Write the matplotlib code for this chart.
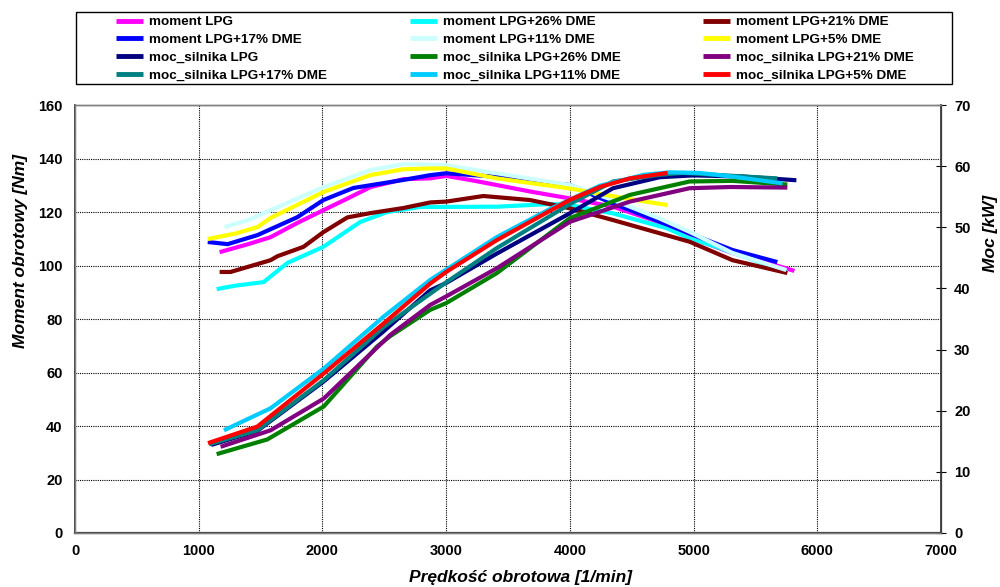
import matplotlib
matplotlib.use("Agg")
import matplotlib.pyplot as plt
from matplotlib.patches import Rectangle

plt.rcParams['font.family'] = ['Liberation Sans', 'DejaVu Sans']

# ---- data (torque, Nm) ----
m_lpg_x = [1169, 1400, 1581, 1800, 2008, 2200, 2387, 2656, 2871, 3000, 3194, 3409, 3700, 4000, 4349, 4672, 5000, 5315, 5600, 5815]
m_lpg_y = [105, 108, 110.6, 116, 120.7, 125, 129.3, 132.3, 132.6, 133.5, 132, 130.1, 127.5, 125.1, 122, 117, 110, 104.7, 101, 98]

m26_x = [1145, 1300, 1524, 1718, 2008, 2306, 2524, 2790, 3409, 3839, 4000, 4349, 4782, 4968, 5185, 5758]
m26_y = [91.2, 92.5, 93.8, 101, 107, 116.3, 120, 121.9, 122, 123, 122.6, 119.5, 114, 110.2, 107, 97.6]

m21_x = [1169, 1258, 1581, 1637, 1847, 2008, 2202, 2387, 2653, 2871, 3000, 3301, 3677, 4000, 4349, 4968, 5315, 5758]
m21_y = [97.6, 97.6, 102, 103.5, 107, 112.5, 118, 119.6, 121.5, 123.6, 123.9, 126, 124.5, 121.4, 117, 108.9, 102, 97.2]

m17_x = [1073, 1234, 1476, 1798, 2008, 2250, 2653, 2871, 3000, 3409, 4000, 4349, 4726, 4968, 5315, 5677]
m17_y = [108.8, 108, 111.4, 118.1, 124.5, 129, 132, 133.8, 134.5, 133.2, 130.1, 123.2, 116.4, 112, 105.8, 101.3]

m11_x = [1210, 1400, 1581, 2008, 2387, 2653, 2871, 3000, 3409, 4000, 4349, 4726, 4968, 5315, 5750]
m11_y = [114.4, 117, 120.7, 129.3, 135.7, 137.9, 137.8, 137.5, 134.5, 130.1, 124.5, 117.6, 112.6, 104.7, 98.3]

m5_x = [1073, 1300, 1476, 1581, 2008, 2387, 2653, 2871, 3000, 3409, 4000, 4400, 4790]
m5_y = [109.9, 112, 114.4, 117.8, 127.5, 133.8, 136, 136.3, 136.3, 132.6, 128.8, 125.5, 122.6]

# ---- data (power, kW) ----
p_lpg_x = [1100, 1473, 2011, 2495, 2871, 3000, 3409, 4000, 4349, 4726, 5000, 5400, 5831]
p_lpg_y = [14.4, 16.7, 24.8, 33.0, 39.7, 40.9, 45.7, 52.3, 56.4, 58.2, 58.5, 58.3, 57.7]

p26_x = [1145, 1554, 2011, 2441, 2548, 2871, 3000, 3409, 4000, 4484, 4968, 5315, 5758]
p26_y = [12.9, 15.3, 20.7, 30.5, 32.2, 36.5, 37.6, 42.5, 51.5, 55.3, 57.5, 57.6, 57.0]

p21_x = [1177, 1581, 2011, 2548, 2871, 3000, 3409, 4000, 4484, 4968, 5300, 5758]
p21_y = [14.1, 16.8, 22.0, 32.4, 37.3, 38.7, 43.3, 50.9, 54.2, 56.4, 56.6, 56.5]

p17_x = [1083, 1473, 2011, 2495, 3000, 3409, 4000, 4349, 4726, 4911, 5677]
p17_y = [14.5, 16.8, 25.0, 33.7, 41.0, 46.6, 53.8, 57.5, 58.6, 58.9, 58.0]

p11_x = [1204, 1581, 2011, 2495, 2871, 3409, 3839, 4242, 4600, 4806, 5048, 5315, 5718]
p11_y = [16.8, 20.4, 26.9, 35.4, 41.4, 48.4, 53.0, 56.8, 58.6, 59.0, 58.9, 58.3, 57.2]

p5_x = [1075, 1473, 2011, 2495, 2871, 3000, 3409, 4000, 4242, 4484, 4790]
p5_y = [14.7, 17.4, 26.1, 34.3, 40.8, 42.7, 47.9, 54.5, 56.6, 58.0, 58.9]

labels_m = ['moment LPG', 'moment LPG+26% DME', 'moment LPG+21% DME',
            'moment LPG+17% DME', 'moment LPG+11% DME', 'moment LPG+5% DME']
labels_p = ['moc_silnika LPG', 'moc_silnika LPG+26% DME', 'moc_silnika LPG+21% DME',
            'moc_silnika LPG+17% DME', 'moc_silnika LPG+11% DME', 'moc_silnika LPG+5% DME']
colors_m = ['#FF00FF', '#00FFFF', '#800000', '#0000FF', '#CCFFFF', '#FFFF00']
colors_p = ['#000080', '#008000', '#800080', '#008080', '#00CCFF', '#FF0000']

x_ticks = [0, 1000, 2000, 3000, 4000, 5000, 6000, 7000]
yl_ticks = [0, 20, 40, 60, 80, 100, 120, 140, 160]
yr_ticks = [0, 10, 20, 30, 40, 50, 60, 70]

fig = plt.figure(figsize=(10, 5.87), dpi=100)
ax = fig.add_axes([0.075, 0.092, 0.866, 0.729])
ax2 = ax.twinx()

lw = 3.0
m_data = [(m_lpg_x, m_lpg_y), (m26_x, m26_y), (m21_x, m21_y), (m17_x, m17_y), (m11_x, m11_y), (m5_x, m5_y)]
p_data = [(p_lpg_x, p_lpg_y), (p26_x, p26_y), (p21_x, p21_y), (p17_x, p17_y), (p11_x, p11_y), (p5_x, p5_y)]
hm = []
for (x, y), c, l in zip(m_data, colors_m, labels_m):
    h, = ax.plot(x, y, color=c, lw=lw, label=l, solid_capstyle='butt', solid_joinstyle='round')
    hm.append(h)
hp = []
for (x, y), c, l in zip(p_data, colors_p, labels_p):
    h, = ax2.plot(x, y, color=c, lw=lw, label=l, solid_capstyle='butt', solid_joinstyle='round')
    hp.append(h)

ax.set_xlim(0, 7000)
ax.set_ylim(0, 160)
ax2.set_ylim(0, 70)
ax.set_xticks(x_ticks)
ax.set_yticks(yl_ticks)
ax2.set_yticks(yr_ticks)
ax.grid(True, color='black', linestyle=(0, (1, 1)), linewidth=0.8)
ax.set_axisbelow(True)

for a in (ax, ax2):
    for s in a.spines.values():
        s.set_color('#808080')
        s.set_linewidth(1.0)
ax.spines['left'].set_color('#202020')
ax.spines['left'].set_linewidth(1.2)
ax.spines['bottom'].set_color('#404040')
ax.spines['bottom'].set_linewidth(1.6)
ax2.spines['right'].set_color('#303030')
ax2.spines['right'].set_linewidth(1.2)

ax.tick_params(axis='y', length=0, labelsize=10.5, pad=9)
ax.tick_params(axis='x', length=0, labelsize=10.5, pad=8)
ax2.tick_params(axis='y', which='major', direction='inout', length=7, labelsize=10.5, pad=6)
for lab in ax.get_xticklabels() + ax.get_yticklabels() + ax2.get_yticklabels():
    lab.set_fontweight('bold')

ax.set_xlabel('Prędkość obrotowa [1/min]', fontsize=12.5, fontweight='bold', style='italic',
              ha='center', va='center')
ax.xaxis.set_label_coords(0.514, -0.103)
ax.set_ylabel('Moment obrotowy [Nm]', fontsize=12.5, fontweight='bold', style='italic',
              ha='center', va='center')
ax.yaxis.set_label_coords(-0.0635, 0.659)
ax2.set_ylabel('Moc [kW]', fontsize=12.5, fontweight='bold', style='italic', rotation=90,
               ha='center', va='center')
ax2.yaxis.set_label_coords(1.057, 0.70)

# legend: frame + three columns
fig.patches.append(Rectangle((0.076, 0.8569), 0.876, 0.1227, transform=fig.transFigure,
                             fill=False, edgecolor='black', linewidth=1.0))
cols = [[hm[0], hm[3], hp[0], hp[3]], [hm[1], hm[4], hp[1], hp[4]], [hm[2], hm[5], hp[2], hp[5]]]
col_x = [0.116, 0.410, 0.703]
for hs, cx in zip(cols, col_x):
    lg = fig.legend(handles=hs, labels=[h.get_label() for h in hs], loc='upper left',
                    bbox_to_anchor=(cx, 0.973), frameon=False, fontsize=9.7,
                    handlelength=2.0, handletextpad=0.45, labelspacing=0.40,
                    borderpad=0, borderaxespad=0)
    for t in lg.get_texts():
        t.set_fontweight('bold')
    for lh in lg.legend_handles:
        lh.set_linewidth(3.5)

fig.savefig('out.png', dpi=100)
